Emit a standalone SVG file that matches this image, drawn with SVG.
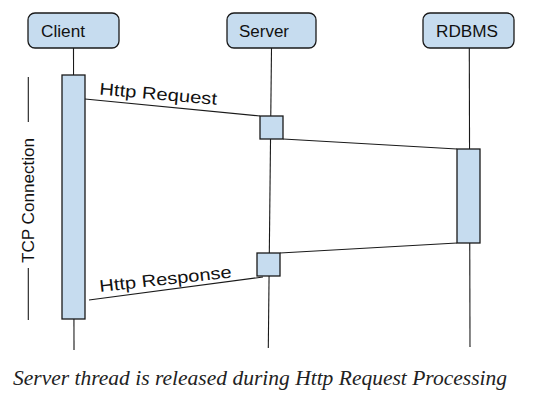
<svg xmlns="http://www.w3.org/2000/svg" width="551" height="406" viewBox="0 0 551 406">
<style>
.bg{fill:#ffffff}
.head{fill:#c6dcef;stroke:#1a1a1a;stroke-width:1.3}
.act{fill:#c6dcef;stroke:#1a1a1a;stroke-width:1.3}
.life{stroke:#1a1a1a;stroke-width:1.1;fill:none}
.msg{stroke:#1a1a1a;stroke-width:1.1;fill:none}
.lbl{font-family:"Liberation Sans",Arial,sans-serif;font-size:16px;fill:#111}
.mlbl{font-family:"Liberation Sans",Arial,sans-serif;font-size:17px;fill:#111}
.cap{font-family:"Liberation Serif","Times New Roman",serif;font-style:italic;font-size:21px;fill:#222}
</style>
<rect class="bg" x="0" y="0" width="551" height="406"/>
<g id="lifelines">
<line class="life" x1="73.5" y1="48" x2="74" y2="350"/>
<line class="life" x1="271.5" y1="48" x2="268.3" y2="348"/>
<line class="life" x1="469.3" y1="48" x2="470" y2="347"/>
</g>
<g id="client">
<rect class="head" x="28" y="13" width="91" height="35" rx="7"/>
<text class="lbl" x="41" y="36.5" textLength="44" lengthAdjust="spacingAndGlyphs">Client</text>
</g>
<g id="server">
<rect class="head" x="227" y="13" width="89" height="35" rx="7"/>
<text class="lbl" x="239" y="36.5" textLength="50" lengthAdjust="spacingAndGlyphs">Server</text>
</g>
<g id="rdbms">
<rect class="head" x="423" y="13" width="91" height="35" rx="7"/>
<text class="lbl" x="436" y="36.5" textLength="62" lengthAdjust="spacingAndGlyphs">RDBMS</text>
</g>
<g id="connectors">
<line class="msg" x1="85" y1="99" x2="260" y2="116"/>
<line class="msg" x1="283" y1="139" x2="457" y2="149"/>
<line class="msg" x1="457" y1="243" x2="280" y2="253"/>
<line class="msg" x1="89" y1="300" x2="263" y2="277"/>
</g>
<g id="client-activation">
<rect class="act" x="62" y="75" width="23" height="244"/>
</g>
<g id="server-activation-1">
<rect class="act" x="260" y="116" width="23" height="23"/>
</g>
<g id="rdbms-activation">
<rect class="act" x="457" y="149" width="23" height="94"/>
</g>
<g id="server-activation-2">
<rect class="act" x="257" y="253" width="23" height="23"/>
</g>
<g id="labels">
<text class="mlbl" transform="translate(99,94.5) rotate(5)" textLength="118" lengthAdjust="spacingAndGlyphs">Http Request</text>
<text class="mlbl" transform="translate(100,292) rotate(-6.3)" textLength="133" lengthAdjust="spacingAndGlyphs">Http Response</text>
</g>
<g id="tcp">
<line class="life" x1="28.3" y1="77" x2="28.3" y2="122"/>
<line class="life" x1="28.3" y1="268" x2="28.3" y2="320"/>
<text class="lbl" transform="translate(33.5,200.5) rotate(-90)" text-anchor="middle" style="font-size:16.5px" textLength="125" lengthAdjust="spacingAndGlyphs">TCP Connection</text>
</g>
<text class="cap" x="13" y="385" textLength="494" lengthAdjust="spacingAndGlyphs">Server thread is released during Http Request Processing</text>
</svg>
